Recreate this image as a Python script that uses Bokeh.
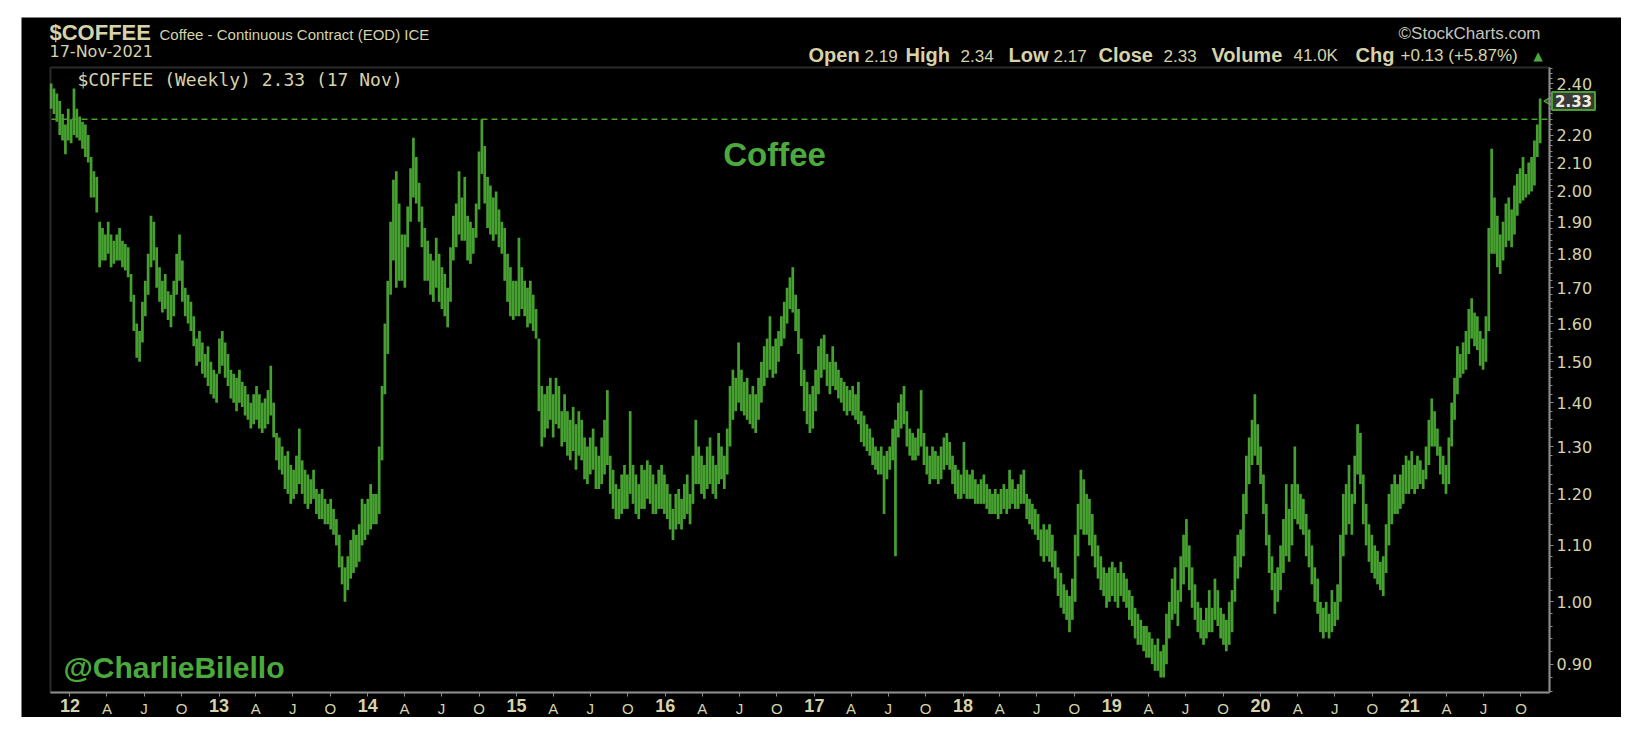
import numpy as np
import pandas as pd
from bokeh.plotting import figure
from bokeh.models import (Range1d, FixedTicker, PrintfTickFormatter, Label,
                          ColumnDataSource, Spacer, BoxAnnotation)
from bokeh.layouts import column, row
from bokeh.embed import file_html
from bokeh.resources import INLINE

# ---------------- data: weekly high / low of $COFFEE (USD/lb) ----------------
hi_2011 = [2.40, 2.38, 2.36, 2.33, 2.28, 2.24, 2.30]
lo_2011 = [2.30, 2.28, 2.25, 2.20, 2.18, 2.13, 2.18]

hi_2012 = [2.26, 2.38, 2.30, 2.27, 2.25, 2.24, 2.20, 2.12, 2.07, 2.05,
           1.90, 1.88, 1.86, 1.90, 1.86, 1.84, 1.86, 1.88, 1.84, 1.83,
           1.82, 1.74, 1.68, 1.60, 1.58, 1.66, 1.72, 1.80, 1.92, 1.90,
           1.82, 1.76, 1.72, 1.74, 1.69, 1.68, 1.72, 1.80, 1.86, 1.78,
           1.70, 1.68, 1.66, 1.62, 1.56, 1.58, 1.55, 1.52, 1.54, 1.50,
           1.48, 1.47]
lo_2012 = [2.17, 2.20, 2.19, 2.18, 2.15, 2.12, 2.10, 1.98, 1.98, 1.93,
           1.76, 1.78, 1.78, 1.80, 1.76, 1.77, 1.78, 1.78, 1.76, 1.75,
           1.73, 1.66, 1.58, 1.51, 1.50, 1.55, 1.62, 1.68, 1.76, 1.78,
           1.70, 1.66, 1.63, 1.64, 1.61, 1.59, 1.62, 1.68, 1.72, 1.66,
           1.62, 1.60, 1.58, 1.54, 1.49, 1.50, 1.47, 1.46, 1.44, 1.42,
           1.41, 1.40]

hi_2013 = [1.56, 1.58, 1.55, 1.52, 1.48, 1.47, 1.46, 1.48, 1.45, 1.44,
           1.42, 1.40, 1.42, 1.44, 1.42, 1.40, 1.41, 1.43, 1.49, 1.40,
           1.33, 1.32, 1.30, 1.28, 1.29, 1.26, 1.25, 1.28, 1.34, 1.27,
           1.25, 1.24, 1.23, 1.25, 1.21, 1.20, 1.21, 1.19, 1.18, 1.19,
           1.17, 1.15, 1.12, 1.08, 1.06, 1.08, 1.11, 1.13, 1.12, 1.14,
           1.19, 1.18]
lo_2013 = [1.47, 1.49, 1.46, 1.44, 1.41, 1.40, 1.38, 1.40, 1.39, 1.37,
           1.36, 1.34, 1.35, 1.36, 1.34, 1.33, 1.34, 1.35, 1.37, 1.32,
           1.27, 1.25, 1.24, 1.21, 1.20, 1.18, 1.19, 1.20, 1.22, 1.20,
           1.18, 1.17, 1.18, 1.19, 1.16, 1.15, 1.15, 1.14, 1.14, 1.13,
           1.12, 1.10, 1.06, 1.03, 1.00, 1.02, 1.04, 1.05, 1.06, 1.07,
           1.10, 1.11]

hi_2014 = [1.19, 1.22, 1.20, 1.20, 1.30, 1.44, 1.60, 1.72, 1.90, 2.04,
           2.07, 1.96, 1.86, 1.86, 1.95, 2.08, 2.19, 2.12, 2.03, 1.95,
           1.88, 1.84, 1.80, 1.78, 1.85, 1.80, 1.76, 1.74, 1.70, 1.82,
           1.92, 1.96, 2.07, 1.98, 2.05, 1.92, 1.90, 1.88, 1.96, 2.14,
           2.26, 2.16, 2.05, 2.02, 1.98, 2.00, 1.94, 1.90, 1.88, 1.80,
           1.76, 1.72]
lo_2014 = [1.12, 1.13, 1.14, 1.14, 1.16, 1.27, 1.42, 1.52, 1.68, 1.78,
           1.70, 1.72, 1.72, 1.70, 1.82, 1.90, 1.98, 1.96, 1.90, 1.82,
           1.72, 1.72, 1.68, 1.66, 1.70, 1.66, 1.64, 1.62, 1.59, 1.66,
           1.78, 1.82, 1.86, 1.84, 1.84, 1.78, 1.77, 1.80, 1.85, 1.94,
           2.06, 1.96, 1.88, 1.86, 1.84, 1.86, 1.82, 1.80, 1.72, 1.66,
           1.62, 1.61]

hi_2015 = [1.72, 1.85, 1.76, 1.72, 1.70, 1.72, 1.68, 1.64, 1.56, 1.44,
           1.42, 1.44, 1.46, 1.42, 1.46, 1.44, 1.38, 1.42, 1.38, 1.36,
           1.39, 1.35, 1.38, 1.36, 1.32, 1.30, 1.32, 1.34, 1.30, 1.28,
           1.32, 1.36, 1.43, 1.28, 1.25, 1.22, 1.21, 1.24, 1.26, 1.24,
           1.38, 1.26, 1.24, 1.22, 1.26, 1.25, 1.27, 1.26, 1.24, 1.22,
           1.25, 1.26]
lo_2015 = [1.62, 1.62, 1.64, 1.62, 1.59, 1.60, 1.58, 1.56, 1.38, 1.30,
           1.32, 1.34, 1.36, 1.32, 1.35, 1.34, 1.30, 1.31, 1.28, 1.27,
           1.29, 1.25, 1.28, 1.27, 1.23, 1.22, 1.24, 1.25, 1.21, 1.21,
           1.22, 1.24, 1.26, 1.20, 1.17, 1.15, 1.15, 1.16, 1.17, 1.17,
           1.20, 1.18, 1.16, 1.15, 1.17, 1.17, 1.19, 1.18, 1.16, 1.16,
           1.17, 1.17]

hi_2016 = [1.24, 1.22, 1.20, 1.17, 1.20, 1.21, 1.19, 1.22, 1.24, 1.20,
           1.28, 1.36, 1.30, 1.28, 1.26, 1.30, 1.32, 1.28, 1.26, 1.33,
           1.30, 1.28, 1.34, 1.44, 1.48, 1.46, 1.55, 1.48, 1.45, 1.46,
           1.42, 1.44, 1.42, 1.46, 1.50, 1.54, 1.56, 1.62, 1.54, 1.56,
           1.58, 1.62, 1.66, 1.70, 1.73, 1.76, 1.68, 1.64, 1.56, 1.48,
           1.45, 1.42]
lo_2016 = [1.16, 1.15, 1.13, 1.11, 1.13, 1.14, 1.13, 1.15, 1.16, 1.14,
           1.18, 1.22, 1.22, 1.20, 1.19, 1.21, 1.22, 1.20, 1.19, 1.22,
           1.23, 1.21, 1.24, 1.30, 1.36, 1.38, 1.40, 1.38, 1.37, 1.36,
           1.35, 1.34, 1.33, 1.36, 1.40, 1.44, 1.46, 1.48, 1.46, 1.47,
           1.50, 1.54, 1.56, 1.60, 1.64, 1.63, 1.58, 1.52, 1.44, 1.38,
           1.35, 1.33]

hi_2017 = [1.44, 1.48, 1.54, 1.56, 1.57, 1.52, 1.50, 1.54, 1.50, 1.48,
           1.46, 1.45, 1.44, 1.43, 1.44, 1.42, 1.45, 1.38, 1.37, 1.35,
           1.34, 1.32, 1.30, 1.29, 1.30, 1.28, 1.29, 1.30, 1.34, 1.36,
           1.40, 1.42, 1.44, 1.38, 1.34, 1.33, 1.32, 1.34, 1.43, 1.33,
           1.30, 1.28, 1.30, 1.29, 1.28, 1.30, 1.32, 1.33, 1.31, 1.28,
           1.26, 1.25]
lo_2017 = [1.34, 1.38, 1.42, 1.46, 1.48, 1.44, 1.42, 1.44, 1.43, 1.41,
           1.40, 1.38, 1.37, 1.38, 1.37, 1.36, 1.35, 1.31, 1.30, 1.29,
           1.28, 1.26, 1.25, 1.24, 1.24, 1.16, 1.23, 1.25, 1.27, 1.08,
           1.32, 1.34, 1.35, 1.30, 1.28, 1.27, 1.27, 1.28, 1.30, 1.26,
           1.24, 1.22, 1.23, 1.23, 1.22, 1.23, 1.25, 1.26, 1.25, 1.22,
           1.20, 1.19]

hi_2018 = [1.24, 1.31, 1.25, 1.24, 1.25, 1.23, 1.22, 1.23, 1.24, 1.22,
           1.21, 1.20, 1.21, 1.20, 1.21, 1.22, 1.21, 1.25, 1.23, 1.21,
           1.22, 1.24, 1.25, 1.20, 1.19, 1.18, 1.17, 1.16, 1.13, 1.14,
           1.13, 1.14, 1.12, 1.09, 1.06, 1.05, 1.03, 1.02, 1.01, 1.04,
           1.12, 1.18, 1.25, 1.23, 1.20, 1.19, 1.16, 1.12, 1.10, 1.08,
           1.06, 1.05]
lo_2018 = [1.19, 1.20, 1.19, 1.19, 1.19, 1.18, 1.18, 1.18, 1.18, 1.17,
           1.16, 1.16, 1.16, 1.15, 1.16, 1.17, 1.16, 1.17, 1.18, 1.17,
           1.17, 1.18, 1.18, 1.15, 1.14, 1.13, 1.12, 1.11, 1.08, 1.07,
           1.08, 1.07, 1.06, 1.04, 1.01, 0.99, 0.98, 0.97, 0.95, 0.97,
           1.00, 1.08, 1.13, 1.12, 1.12, 1.10, 1.08, 1.06, 1.04, 1.02,
           1.01, 0.99]

hi_2019 = [1.06, 1.07, 1.06, 1.05, 1.07, 1.05, 1.04, 1.02, 1.01, 0.99,
           0.98, 0.97, 0.96, 0.96, 0.95, 0.94, 0.93, 0.94, 0.92, 0.93,
           0.98, 1.00, 1.04, 1.06, 1.02, 1.08, 1.12, 1.15, 1.10, 1.06,
           1.03, 1.00, 0.99, 0.97, 0.99, 1.02, 0.99, 1.04, 1.02, 0.99,
           0.98, 0.97, 1.00, 1.02, 1.08, 1.12, 1.13, 1.20, 1.28, 1.32,
           1.36, 1.42]
lo_2019 = [1.00, 1.01, 1.00, 0.99, 1.01, 1.00, 0.99, 0.97, 0.96, 0.94,
           0.93, 0.93, 0.92, 0.91, 0.91, 0.90, 0.89, 0.89, 0.88, 0.88,
           0.90, 0.94, 0.97, 0.98, 0.96, 1.00, 1.03, 1.06, 1.02, 0.99,
           0.97, 0.95, 0.94, 0.93, 0.94, 0.95, 0.95, 0.97, 0.96, 0.94,
           0.93, 0.92, 0.93, 0.95, 1.00, 1.04, 1.06, 1.08, 1.16, 1.22,
           1.26, 1.28]

hi_2020 = [1.35, 1.30, 1.24, 1.18, 1.12, 1.08, 1.05, 1.06, 1.10, 1.15,
           1.22, 1.17, 1.22, 1.30, 1.22, 1.20, 1.19, 1.16, 1.13, 1.10,
           1.06, 1.04, 1.00, 0.99, 1.00, 0.98, 1.02, 1.00, 1.03, 1.12,
           1.20, 1.22, 1.26, 1.20, 1.28, 1.35, 1.33, 1.24, 1.18, 1.14,
           1.12, 1.10, 1.09, 1.07, 1.08, 1.14, 1.20, 1.22, 1.24, 1.22,
           1.24, 1.26]
lo_2020 = [1.26, 1.22, 1.16, 1.10, 1.05, 1.02, 0.98, 1.00, 1.02, 1.05,
           1.08, 1.07, 1.10, 1.15, 1.14, 1.13, 1.12, 1.08, 1.06, 1.03,
           1.00, 0.98, 0.95, 0.94, 0.95, 0.94, 0.95, 0.96, 0.97, 1.00,
           1.08, 1.12, 1.14, 1.12, 1.18, 1.24, 1.22, 1.14, 1.10, 1.07,
           1.05, 1.04, 1.03, 1.02, 1.01, 1.05, 1.10, 1.14, 1.16, 1.16,
           1.17, 1.18]

hi_2021 = [1.28, 1.27, 1.29, 1.26, 1.28, 1.27, 1.25, 1.30, 1.36, 1.41,
           1.38, 1.34, 1.30, 1.28, 1.26, 1.32, 1.40, 1.46, 1.54, 1.52,
           1.55, 1.58, 1.64, 1.67, 1.63, 1.62, 1.58, 1.56, 1.62, 1.88,
           2.15, 1.98, 1.92, 1.86, 1.90, 1.96, 1.98, 1.94, 2.02, 2.06,
           2.08, 2.12, 2.06, 2.10, 2.12, 2.18, 2.24, 2.34]
lo_2021 = [1.20, 1.20, 1.21, 1.20, 1.21, 1.22, 1.21, 1.23, 1.26, 1.30,
           1.30, 1.28, 1.24, 1.22, 1.20, 1.22, 1.30, 1.36, 1.42, 1.46,
           1.47, 1.48, 1.52, 1.56, 1.54, 1.53, 1.49, 1.48, 1.50, 1.58,
           1.80, 1.80, 1.76, 1.74, 1.78, 1.82, 1.84, 1.82, 1.86, 1.92,
           1.96, 1.97, 1.98, 1.99, 2.00, 2.02, 2.12, 2.17]

last_date = "2021-11-17"
resistance_level = 2.26          # 2014 high, dashed line
last_close = 2.33

y_tick_values = [0.90, 1.00, 1.10, 1.20, 1.30, 1.40, 1.50, 1.60, 1.70, 1.80,
                 1.90, 2.00, 2.10, 2.20, 2.40]
month_letters = {1: "", 4: "A", 7: "J", 10: "O"}
year_labels = ["12", "13", "14", "15", "16", "17", "18", "19", "20", "21"]

header_bold = ["Open", "High", "Low", "Close", "Volume", "Chg"]
header_vals = ["2.19", "2.34", "2.17", "2.33", "41.0K", "+0.13 (+5.87%)"]

highs = (hi_2011 + hi_2012 + hi_2013 + hi_2014 + hi_2015 + hi_2016 + hi_2017
         + hi_2018 + hi_2019 + hi_2020 + hi_2021)
lows = (lo_2011 + lo_2012 + lo_2013 + lo_2014 + lo_2015 + lo_2016 + lo_2017
        + lo_2018 + lo_2019 + lo_2020 + lo_2021)
n = min(len(highs), len(lows))
highs, lows = highs[:n], lows[:n]
dates = pd.date_range(end=last_date, periods=n, freq="7D")

# ---------------- styling / geometry ----------------
GREEN = "#46a130"
GREEN_TXT = "#4caa3c"
BEIGE = "#d6d3aa"
GRAY = "#8c8c8c"

FIG_W, FIG_H = 1600, 700
PL, PR, PT, PB = 21, 1621, 17, 717      # black panel on the page
FL, FR, FT, FB = 50, 1549, 67, 692      # price-chart box on the page

x_in0 = pd.Timestamp("2011-11-14 10:00").value / 1e6
x_in1 = pd.Timestamp("2021-12-10 00:00").value / 1e6
y_in0, y_in1 = 0.858, 2.466


def px2x(xp):
    return x_in0 + (xp - FL) / (FR - FL) * (x_in1 - x_in0)


def px2y(yp):
    return float(np.exp(np.log(y_in0) + (FB - yp) / (FB - FT) * (np.log(y_in1) - np.log(y_in0))))


p = figure(width=FIG_W, height=FIG_H, x_axis_type="datetime", y_axis_type="log",
           y_axis_location="right",
           x_range=Range1d(px2x(PL), px2x(PR)), y_range=Range1d(px2y(PB), px2y(PT)),
           output_backend="svg", toolbar_location=None, min_border=0)
p.min_border_left = p.min_border_right = p.min_border_top = p.min_border_bottom = 0
p.title.visible = False
p.background_fill_color = "black"
p.border_fill_color = "black"
p.outline_line_color = None
p.xgrid.visible = False
p.ygrid.visible = False

# chart box
p.add_layout(BoxAnnotation(left=px2x(FL), right=px2x(FR), bottom=px2y(FB), top=px2y(FT),
                           fill_color=None, line_color=GRAY, line_width=2))

src = ColumnDataSource(dict(date=dates, high=highs, low=lows))
week_ms = 7 * 24 * 3600 * 1000
p.vbar(x="date", top="high", bottom="low", width=week_ms * 0.95, color=GREEN,
       line_width=0, source=src)

p.segment(x0=[px2x(FL + 1)], x1=[px2x(FR - 1)], y0=[resistance_level], y1=[resistance_level],
          line_color=GREEN, line_dash="6 4", line_width=1.5)

# y axis (right, log) drawn on the box edge
ya = p.yaxis[0]
ya.fixed_location = px2x(FR)
ya.bounds = (px2y(FB), px2y(FT))
ya.ticker = FixedTicker(ticks=y_tick_values,
                        minor_ticks=[round(0.86 + 0.02 * k, 2) for k in range(81)])
ya.formatter = PrintfTickFormatter(format="%.2f")
ya.axis_line_color = GRAY
ya.axis_line_width = 2
ya.major_tick_line_color = GRAY
ya.minor_tick_line_color = GRAY
ya.major_tick_out = 4
ya.major_tick_in = 0
ya.minor_tick_out = 3
ya.minor_tick_in = 0
ya.major_label_standoff = 3
ya.major_label_text_color = BEIGE
ya.major_label_text_font = "DejaVu Sans"
ya.major_label_text_font_size = "16px"

# x axis (quarterly ticks) drawn on the box bottom
x_ticks = [pd.Timestamp(f"{yy}-{mm:02d}-01") for yy in range(2012, 2022) for mm in (1, 4, 7, 10)]
x_tick_ms = [float(t.value / 1e6) for t in x_ticks]
xa = p.xaxis[0]
xa.fixed_location = px2y(FB)
xa.bounds = (px2x(FL), px2x(FR))
xa.ticker = FixedTicker(ticks=x_tick_ms)
xa.major_label_overrides = {ms: month_letters[t.month] for ms, t in zip(x_tick_ms, x_ticks)}
xa.axis_line_color = GRAY
xa.axis_line_width = 2
xa.major_tick_line_color = GRAY
xa.minor_tick_line_color = None
xa.major_tick_out = 4
xa.major_tick_in = 0
xa.major_label_standoff = 3
xa.major_label_text_color = BEIGE
xa.major_label_text_font = "Liberation Sans"
xa.major_label_text_font_size = "15px"


def add_text(text, xp, yp, size, color=BEIGE, font="Liberation Sans", style="normal",
             align="left", **kw):
    p.add_layout(Label(x=px2x(xp), y=px2y(yp), x_units="data", y_units="data", text=text,
                       text_font=font, text_font_size=f"{size}px", text_font_style=style,
                       text_color=color, text_align=align, text_baseline="middle", **kw))


# bold year labels under the January ticks
for yl, t in zip(year_labels, [t for t in x_ticks if t.month == 1]):
    p.add_layout(Label(x=t.value / 1e6, y=px2y(705), text=yl, text_font="Liberation Sans",
                       text_font_size="18px", text_font_style="bold", text_color=BEIGE,
                       text_align="center", text_baseline="middle"))

# headers
add_text("$COFFEE", 49, 32, 22, style="bold")
add_text("Coffee - Continuous Contract (EOD) ICE", 159, 34, 15)
add_text("17-Nov-2021", 49, 51, 16, font="DejaVu Sans")
add_text("\u00a9StockCharts.com", 1540, 33, 17, color="#c4c4bc", align="right")
bold_x = [808, 905, 1008, 1098, 1211, 1355]
val_x = [864, 960, 1053, 1163, 1293, 1400]
for t, xp in zip(header_bold, bold_x):
    add_text(t, xp, 54, 20, style="bold")
for t, xp in zip(header_vals, val_x):
    add_text(t, xp, 55, 17)
add_text("\u25b2", 1533, 55, 12, color=GREEN_TXT, font="DejaVu Sans")
add_text("$COFFEE (Weekly) 2.33 (17 Nov)", 77, 79, 18, font="DejaVu Sans Mono")

# chart annotations
add_text("Coffee", 774, 154, 33, color=GREEN_TXT, style="bold", align="center")
add_text("@CharlieBilello", 63, 667, 30, color=GREEN_TXT, style="bold")

# last value marker on the price axis: pointer + box
p.scatter(x=[px2x(1551)], y=[last_close], marker="triangle", angle=np.pi / 2, size=13,
          fill_color="#3a3a3a", line_color=GREEN, line_width=1.5)
p.add_layout(Label(x=px2x(1573), y=last_close, text=f"{last_close:.2f}",
                   text_font="DejaVu Sans", text_font_size="15px", text_font_style="bold",
                   text_color="#eeeedd", text_align="center", text_baseline="middle",
                   background_fill_color="#3a3a3a", border_line_color=GREEN,
                   border_line_width=2, padding=3))

layout = column(Spacer(height=PT), row(Spacer(width=PL), p))
open("out.html", "w").write(file_html(layout, INLINE))
